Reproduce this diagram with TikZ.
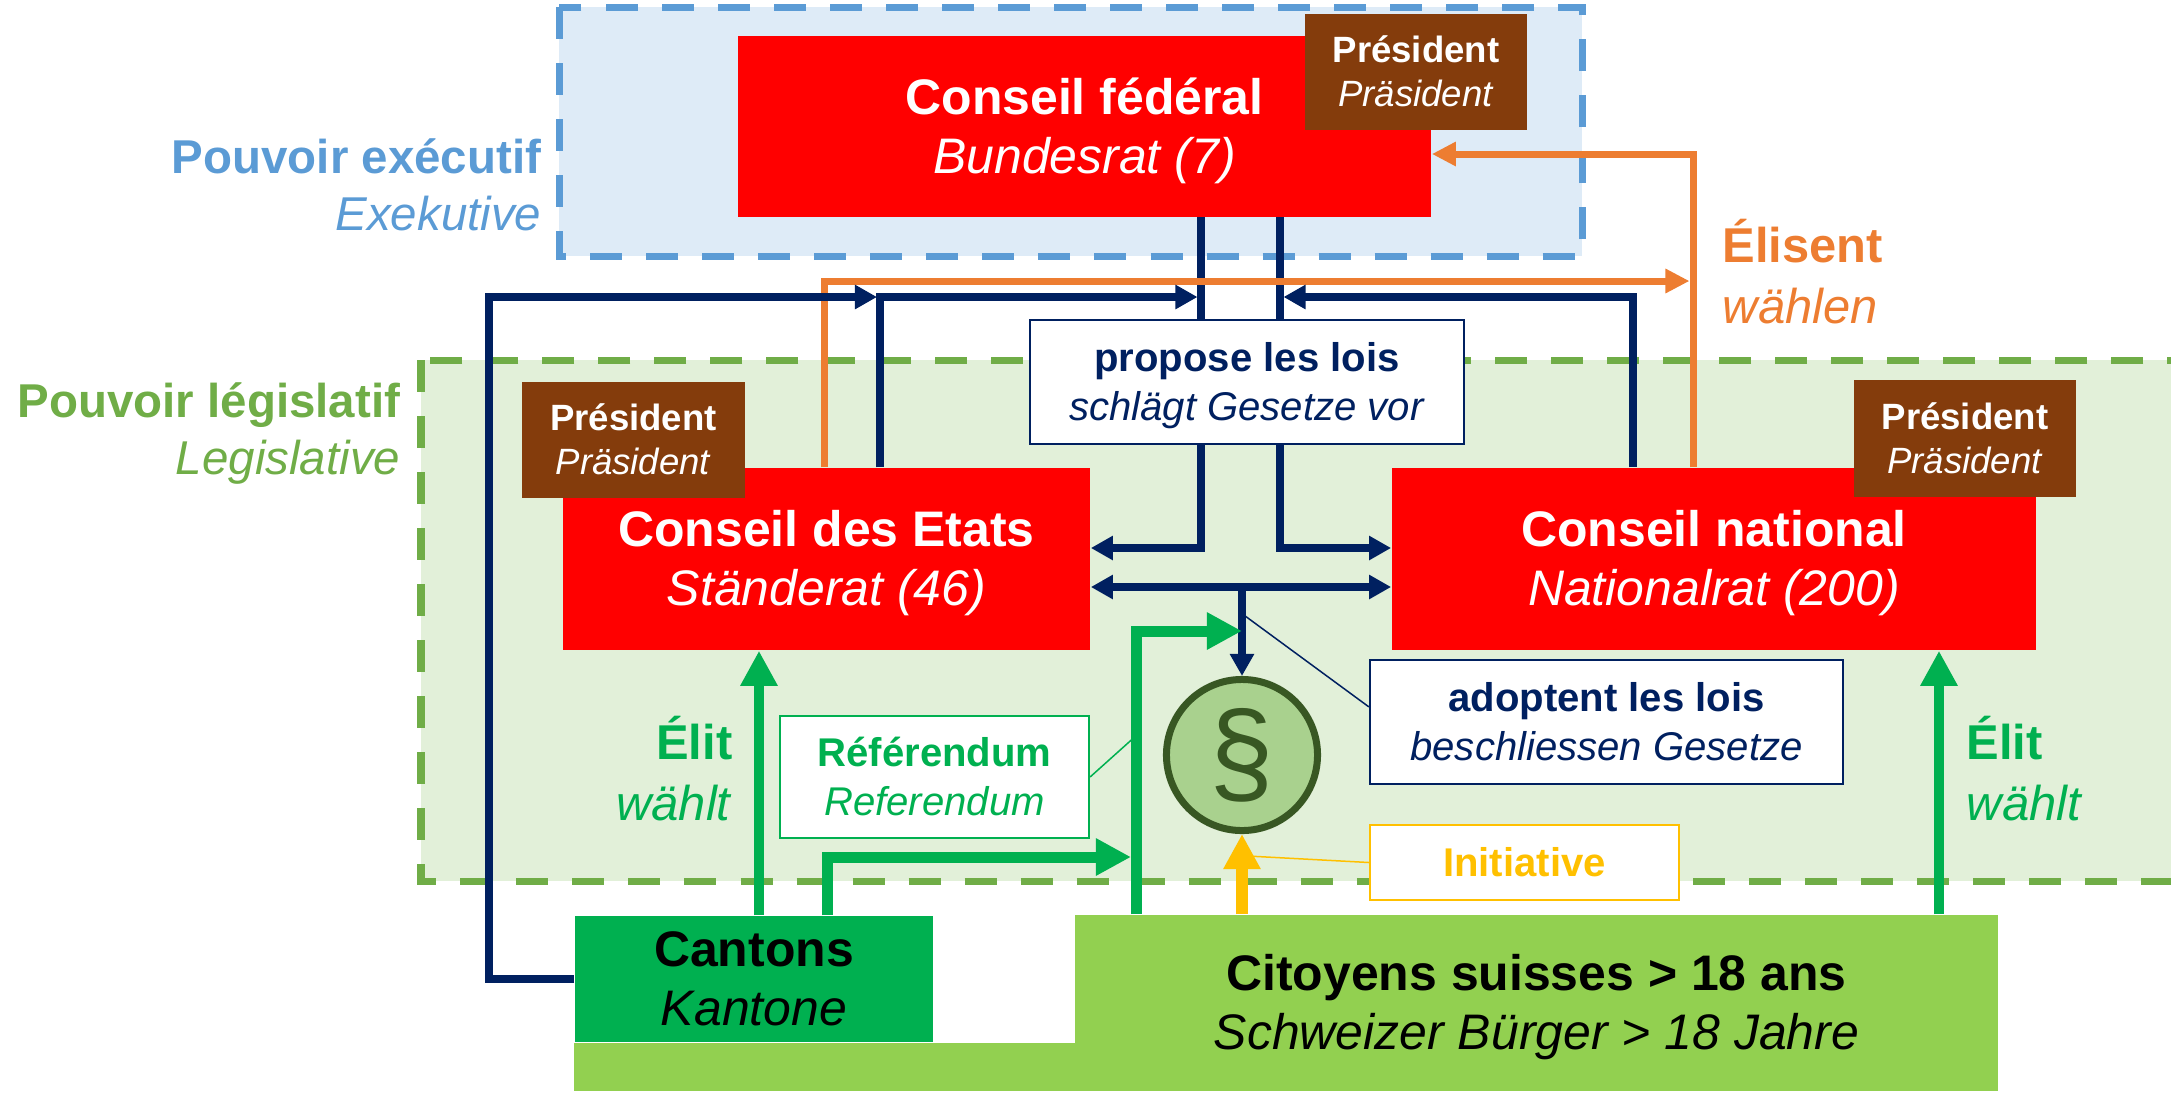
\documentclass[tikz,border=0pt]{standalone}
\usepackage{fontspec}
\setmainfont{Liberation Sans}
\usepackage{xcolor}
\usepackage{tikz}
\usetikzlibrary{
	arrows.meta,						% Advanced arrows
	calc								% Calculate point coordinates
}
\definecolor{ppt_red}{HTML}{FF0000}
\definecolor{ppt_brown}{HTML}{843C0C}
\definecolor{ppt_navy}{HTML}{002060}
\definecolor{ppt_orange}{HTML}{ED7D31}
\definecolor{ppt_blue}{HTML}{5B9BD5}
\definecolor{ppt_bluefill}{HTML}{DEEBF7}
\definecolor{ppt_leaf}{HTML}{70AD47}
\definecolor{ppt_leaffill}{HTML}{E2F0D9}
\definecolor{ppt_green}{HTML}{00B050}
\definecolor{ppt_lime}{HTML}{92D050}
\definecolor{ppt_gold}{HTML}{FFC000}
\definecolor{ppt_sage}{HTML}{A9D18E}
\definecolor{ppt_olive}{HTML}{385723}
\newcommand{\pptstrut}{\rule[-0.212em]{0pt}{1.117em}}
\newcommand{\twolines}[2]{\pptstrut\textbf{#1}\\\pptstrut\textit{#2}}

\begin{document}
\begin{tikzpicture}
		[
		,x=0.01cm, y=-0.01cm
		,red_box/.style = {
			,fill=ppt_red
			,text=white
			,align=center
			,inner sep=0pt
			,font=\fontsize{14.2}{16.8}\selectfont}
		,pres_box/.style = {
			,fill=ppt_brown
			,text=white
			,align=center
			,inner sep=0pt
			,minimum width=2.22cm
			,minimum height=1.16cm
			,font=\fontsize{10.4}{12.5}\selectfont}
		,note_box/.style = {
			,fill=white
			,draw
			,line width=0.02cm
			,align=center
			,inner sep=0pt
			,font=\fontsize{11.4}{13.9}\selectfont}
		,base_box/.style = {
			,text=black
			,align=center
			,inner sep=0pt
			,font=\fontsize{14.2}{16.8}\selectfont}
		,zone_label/.style = {
			,inner sep=0pt
			,font=\fontsize{13.5}{16.2}\selectfont}
		,vote_label/.style = {
			,inner sep=0pt
			,font=\fontsize{13.9}{17.1}\selectfont}
		,zone_dash/.style = {
			,line width=0.07cm
			,dash pattern=on 0.32cm off 0.24cm}
		,law/.style = {draw=ppt_navy, line width=0.075cm}
		,elect/.style = {draw=ppt_orange, line width=0.07cm}
		,vote/.style = {draw=ppt_green, line width=0.11cm}
		,init/.style = {draw=ppt_gold, line width=0.12cm}
		,callout/.style = {line width=0.015cm}
		,navy_head/.tip = {
			Triangle[length=2.2mm, width=2.3mm]}
		,orange_head/.tip = {
			Triangle[length=2.4mm, width=2.3mm]}
		,big_head/.tip = {
			Triangle[length=3.5mm, width=3.5mm]}
		]
		\useasboundingbox (0,0) rectangle (2171,1093);

		% Zones
		\fill[ppt_bluefill] (559,7) rectangle (1582,256);
		\draw[zone_dash, ppt_blue] (559,7) rectangle (1582,256);
		\fill[ppt_leaffill] (421,360) rectangle (2190,881);
		\draw[zone_dash, ppt_leaf] (421,360) rectangle (2190,881);

		% Bends and levels
		\coordinate (loop)  at (489,297);
		\coordinate (sbend) at (880,297);
		\coordinate (nbend) at (1633,297);
		\coordinate (fleg)  at (1201,217);
		\coordinate (rleg)  at (1280,217);
		\coordinate (obend) at (824,281);
		\coordinate (ebend) at (1693,154);
		\coordinate (lvla)  at (1242,548);
		\coordinate (lvlb)  at (1242,587);
		\coordinate (cup)   at (827,857);
		\coordinate (zref)  at (1136,631);
		\coordinate (selit) at (759,0);
		\coordinate (nelit) at (1939,0);

		% Councils
		\node [red_box, minimum width=6.93cm, minimum height=1.81cm] (fed)   at (1084.5,126.5) {\twolines{Conseil fédéral}{Bundesrat (7)}};
		\node [pres_box]                                             (fedpres)   at (1416,72)      {\twolines{Président}{Präsident}};
		\node [red_box, minimum width=5.27cm, minimum height=1.82cm] (etats) at (826.5,559)   {\twolines{Conseil des Etats}{Ständerat (46)}};
		\node [pres_box]                                             (etatspres) at (633.5,440)    {\twolines{Président}{Präsident}};
		\node [red_box, minimum width=6.44cm, minimum height=1.82cm] (natl)  at (1714,559)    {\twolines{Conseil national}{Nationalrat (200)}};
		\node [pres_box]                                             (natlpres)  at (1965,438.5)   {\twolines{Président}{Präsident}};

		% Notes
		\node [note_box, draw=ppt_navy, text=ppt_navy, minimum width=4.34cm, minimum height=1.24cm]   (propose) at (1247,382)     {\twolines{propose les lois}{schlägt Gesetze vor}};
		\node [note_box, draw=ppt_navy, text=ppt_navy, minimum width=4.73cm, minimum height=1.24cm]   (adopt)   at (1606.5,722)   {\twolines{adoptent les lois}{beschliessen Gesetze}};
		\node [note_box, draw=ppt_green, text=ppt_green, minimum width=3.09cm, minimum height=1.22cm] (refbox)  at (934.5,777)    {\twolines{Référendum}{Referendum}};
		\node [note_box, draw=ppt_gold, text=ppt_gold, minimum width=3.09cm, minimum height=0.75cm]   (initbox) at (1524.5,862.5) {\pptstrut\textbf{Initiative}};
		\node [circle, fill=ppt_sage, draw=ppt_olive, line width=0.07cm, minimum size=1.51cm, inner sep=0pt, text=ppt_olive, font=\fontsize{33}{33}\selectfont] (para) at (1242,755) {§};

		% People
		\node [base_box, fill=ppt_green, minimum width=3.58cm, minimum height=1.26cm] (cantons)  at (754,979)     {\twolines{Cantons}{Kantone}};
		\fill[ppt_lime] (cantons.south west) rectangle (1076,1091);
		\node [base_box, fill=ppt_lime, minimum width=9.23cm, minimum height=1.76cm]  (citizens) at (1536.5,1003) {\twolines{Citoyens suisses > 18 ans}{Schweizer Bürger > 18 Jahre}};

		% Callouts
		\draw[callout, ppt_navy]  ($(lvlb)!0.3!(para.north)$) -- ($(adopt.north west)!0.38!(adopt.south west)$);
		\draw[callout, ppt_green] (refbox.east) -- ($(citizens.north -| zref)!0.63!(zref)$);
		\draw[callout, ppt_gold]  (initbox.west) -- ($(para.south)!0.27!(citizens.north -| para)$);

		% Laws
		\draw[law] (fleg) -- (propose.north -| fleg);
		\draw[law] (rleg) -- (propose.north -| rleg);
		\draw[law, -navy_head] (propose.south -| fleg) |- (etats.east |- lvla);
		\draw[law, -navy_head] (propose.south -| rleg) |- (natl.west |- lvla);
		\draw[law, navy_head-navy_head] (etats.east |- lvlb) -- (natl.west |- lvlb);
		\draw[law, -navy_head] (lvlb) -- (para.north);

		% Elections
		\draw[elect, -orange_head] (etats.north -| obend) -- (obend) -- ($(obend -| ebend)+(-3.5,0)$);
		\draw[elect, -orange_head] (natl.north -| ebend) -- (ebend) -- (fed.east |- ebend);
		\draw[law, -navy_head] (cantons.west) -| (loop) -- ($(sbend)+(-3,0)$);
		\draw[law, -navy_head] (etats.north -| sbend) -- (sbend) -- ($(fleg |- sbend)+(-3.5,0)$);
		\draw[law, -navy_head] (natl.north -| nbend) -- (nbend) -- ($(rleg |- nbend)+(3.5,0)$);

		% Votes
		\draw[vote, line width=0.105cm, -big_head] (cantons.north -| selit) -- (etats.south -| selit);
		\draw[vote, line width=0.105cm, -big_head] (citizens.north -| nelit) -- (natl.south -| nelit);
		\draw[vote, -big_head] (cantons.north -| cup) -- (cup) -- ($(cup -| zref)+(-5,0)$);
		\draw[vote, -big_head] (citizens.north -| zref) -- (zref) -- (zref -| para);
		\draw[init, -big_head] (citizens.north -| para) -- (para.south);

		% Labels
		\node[zone_label, text=ppt_blue, anchor=east, align=right] (execlabel)  at (542,186)  {\twolines{Pouvoir exécutif}{Exekutive}};
		\node[zone_label, text=ppt_leaf, anchor=east, align=right] (legislabel) at (401,430)  {\twolines{Pouvoir législatif}{Legislative}};
		\node[vote_label, text=ppt_orange, anchor=west, align=left] (elisent)  at (1722,276) {\twolines{Élisent}{wählen}};
		\node[vote_label, text=ppt_green, anchor=east, align=right] (elitleft) at (733,773)  {\twolines{Élit}{wählt}};
		\node[vote_label, text=ppt_green, anchor=west, align=left] (elitright) at (1966,773) {\twolines{Élit}{wählt}};
	\end{tikzpicture}
\end{document}
